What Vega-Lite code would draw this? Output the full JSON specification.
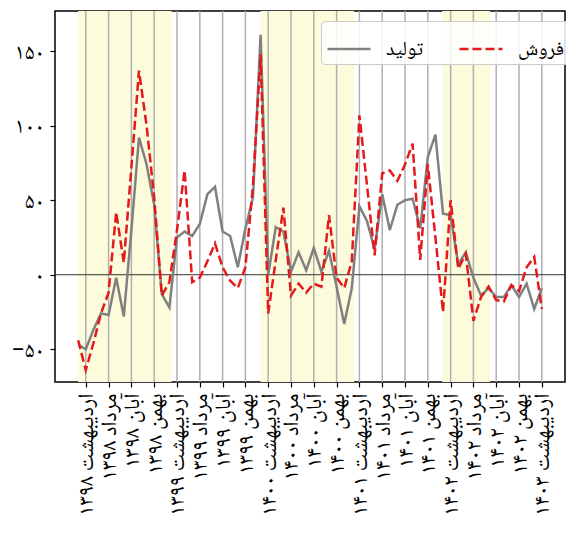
{
  "$schema": "https://vega.github.io/schema/vega-lite/v6.json",
  "width": 510,
  "height": 371,
  "autosize": {"type": "none"},
  "padding": {"left": 55, "top": 11, "right": 1, "bottom": 157},
  "background": "white",
  "config": {
    "view": {"stroke": "black", "strokeWidth": 1.5},
    "font": "DejaVu Sans"
  },
  "datasets": {
    "bands": [
      {"start": 0, "end": 12.3},
      {"start": 24, "end": 36.3},
      {"start": 47.9, "end": 54.2}
    ],
    "ticks": [
      {"i": 1}, {"i": 4}, {"i": 7}, {"i": 10}, {"i": 13}, {"i": 16}, {"i": 19},
      {"i": 22}, {"i": 25}, {"i": 28}, {"i": 31}, {"i": 34}, {"i": 37}, {"i": 40},
      {"i": 43}, {"i": 46}, {"i": 49}, {"i": 52}, {"i": 55}, {"i": 58}, {"i": 61}
    ],
    "series": [
      {"i": 0, "تولید": -47, "فروش": -44},
      {"i": 1, "تولید": -50, "فروش": -64},
      {"i": 2, "تولید": -37, "فروش": -46},
      {"i": 3, "تولید": -26, "فروش": -26},
      {"i": 4, "تولید": -27, "فروش": -12},
      {"i": 5, "تولید": -2, "فروش": 42},
      {"i": 6, "تولید": -28, "فروش": 8},
      {"i": 7, "تولید": 30, "فروش": 72},
      {"i": 8, "تولید": 92, "فروش": 137},
      {"i": 9, "تولید": 74, "فروش": 100},
      {"i": 10, "تولید": 47, "فروش": 52},
      {"i": 11, "تولید": -13, "فروش": -14},
      {"i": 12, "تولید": -22, "فروش": -5},
      {"i": 13, "تولید": 25, "فروش": 30},
      {"i": 14, "تولید": 29, "فروش": 70},
      {"i": 15, "تولید": 26, "فروش": -5},
      {"i": 16, "تولید": 34, "فروش": -2},
      {"i": 17, "تولید": 54, "فروش": 9},
      {"i": 18, "تولید": 59, "فروش": 21},
      {"i": 19, "تولید": 29, "فروش": 5},
      {"i": 20, "تولید": 26, "فروش": -4},
      {"i": 21, "تولید": 5, "فروش": -9},
      {"i": 22, "تولید": 31, "فروش": 5},
      {"i": 23, "تولید": 52, "فروش": 60},
      {"i": 24, "تولید": 161, "فروش": 148},
      {"i": 25, "تولید": 0, "فروش": -26},
      {"i": 26, "تولید": 32, "فروش": 10},
      {"i": 27, "تولید": 29, "فروش": 45},
      {"i": 28, "تولید": 2, "فروش": -14},
      {"i": 29, "تولید": 15, "فروش": -6},
      {"i": 30, "تولید": 3, "فروش": -12},
      {"i": 31, "تولید": 18, "فروش": -6},
      {"i": 32, "تولید": 2, "فروش": -8},
      {"i": 33, "تولید": 16, "فروش": 40},
      {"i": 34, "تولید": -8, "فروش": -2},
      {"i": 35, "تولید": -33, "فروش": -9},
      {"i": 36, "تولید": -9, "فروش": 9},
      {"i": 37, "تولید": 46, "فروش": 107},
      {"i": 38, "تولید": 36, "فروش": 60},
      {"i": 39, "تولید": 17, "فروش": 13},
      {"i": 40, "تولید": 54, "فروش": 68},
      {"i": 41, "تولید": 30, "فروش": 70},
      {"i": 42, "تولید": 47, "فروش": 63},
      {"i": 43, "تولید": 50, "فروش": 74},
      {"i": 44, "تولید": 51, "فروش": 88},
      {"i": 45, "تولید": 31, "فروش": 10},
      {"i": 46, "تولید": 79, "فروش": 74},
      {"i": 47, "تولید": 94, "فروش": 25},
      {"i": 48, "تولید": 41, "فروش": -25},
      {"i": 49, "تولید": 40, "فروش": 50},
      {"i": 50, "تولید": 7, "فروش": 4},
      {"i": 51, "تولید": 15, "فروش": 14},
      {"i": 52, "تولید": -2, "فروش": -31},
      {"i": 53, "تولید": -14, "فروش": -15},
      {"i": 54, "تولید": -9, "فروش": -8},
      {"i": 55, "تولید": -15, "فروش": -17},
      {"i": 56, "تولید": -15, "فروش": -18},
      {"i": 57, "تولید": -7, "فروش": -7},
      {"i": 58, "تولید": -15, "فروش": -11},
      {"i": 59, "تولید": -6, "فروش": 5},
      {"i": 60, "تولید": -23, "فروش": 12},
      {"i": 61, "تولید": -9, "فروش": -23}
    ]
  },
  "layer": [
    {
      "data": {"name": "bands"},
      "mark": {"type": "rect", "color": "#fcfbdc"},
      "encoding": {
        "x": {
          "field": "start",
          "type": "quantitative",
          "scale": {"domain": [-3.05, 64.05], "nice": false, "zero": false},
          "axis": {
            "title": null,
            "values": [1, 4, 7, 10, 13, 16, 19, 22, 25, 28, 31, 34, 37, 40, 43, 46, 49, 52, 55, 58, 61],
            "tickCount": 40,
            "labelExpr": "['اردیبهشت ۱۳۹۸','مرداد ۱۳۹۸','آبان ۱۳۹۸','بهمن ۱۳۹۸','اردیبهشت ۱۳۹۹','مرداد ۱۳۹۹','آبان ۱۳۹۹','بهمن ۱۳۹۹','اردیبهشت ۱۴۰۰','مرداد ۱۴۰۰','آبان ۱۴۰۰','بهمن ۱۴۰۰','اردیبهشت ۱۴۰۱','مرداد ۱۴۰۱','آبان ۱۴۰۱','بهمن ۱۴۰۱','اردیبهشت ۱۴۰۲','مرداد ۱۴۰۲','آبان ۱۴۰۲','بهمن ۱۴۰۲','اردیبهشت ۱۴۰۳'][round((datum.value - 1) / 3)]",
            "labelAngle": -90,
            "labelFont": "Noto Naskh Arabic, Noto Sans Arabic, DejaVu Sans",
            "labelFontSize": 22,
            "labelColor": "black",
            "labelOverlap": false,
            "labelFlush": false,
            "labelPadding": 6,
            "grid": false,
            "domain": false,
            "ticks": true,
            "tickColor": "black",
            "tickSize": 5,
            "tickWidth": 1.2
          }
        },
        "x2": {"field": "end"}
      }
    },
    {
      "data": {"name": "ticks"},
      "mark": {"type": "rule", "color": "#b0b0b0", "strokeWidth": 1.5},
      "encoding": {
        "x": {"field": "i", "type": "quantitative"}
      }
    },
    {
      "data": {"values": [{"z": 0}]},
      "mark": {"type": "rule", "color": "#333333", "strokeWidth": 1},
      "encoding": {
        "y": {
          "field": "z",
          "type": "quantitative",
          "scale": {"domain": [-72, 177], "nice": false, "zero": false},
          "axis": {
            "title": null,
            "values": [-50, 0, 50, 100, 150],
            "labelExpr": "datum.value == 150 ? '۱۵۰' : datum.value == 100 ? '۱۰۰' : datum.value == 50 ? '۵۰' : datum.value == 0 ? '۰' : '−۵۰'",
            "labelFont": "Noto Naskh Arabic, Noto Sans Arabic, DejaVu Sans",
            "labelFontSize": 22,
            "labelColor": "black",
            "labelPadding": 6,
            "grid": false,
            "domain": false,
            "tickColor": "black",
            "tickSize": 5,
            "tickWidth": 1.2
          }
        }
      }
    },
    {
      "data": {"name": "series"},
      "transform": [{"fold": ["تولید", "فروش"], "as": ["series", "value"]}],
      "mark": {"type": "line", "strokeWidth": 2.5},
      "encoding": {
        "x": {"field": "i", "type": "quantitative"},
        "y": {"field": "value", "type": "quantitative"},
        "color": {
          "field": "series",
          "type": "nominal",
          "scale": {"domain": ["تولید", "فروش"], "range": ["#808080", "#e3191c"]},
          "legend": {
            "title": null,
            "orient": "none",
            "legendX": 266,
            "legendY": 10,
            "direction": "horizontal",
            "symbolType": "stroke",
            "symbolSize": 1850,
            "symbolStrokeWidth": 2.5,
            "labelFont": "Noto Naskh Arabic, Noto Sans Arabic, DejaVu Sans",
            "labelFontSize": 20,
            "labelColor": "black",
            "labelOffset": 14,
            "columnPadding": 30,
            "padding": 5,
            "fillColor": "rgba(255,255,255,0.85)",
            "strokeColor": "#cccccc",
            "cornerRadius": 4
          }
        },
        "strokeDash": {
          "field": "series",
          "type": "nominal",
          "scale": {"domain": ["تولید", "فروش"], "range": [[1, 0], [9, 4]]},
          "legend": {"title": null}
        }
      }
    }
  ]
}
